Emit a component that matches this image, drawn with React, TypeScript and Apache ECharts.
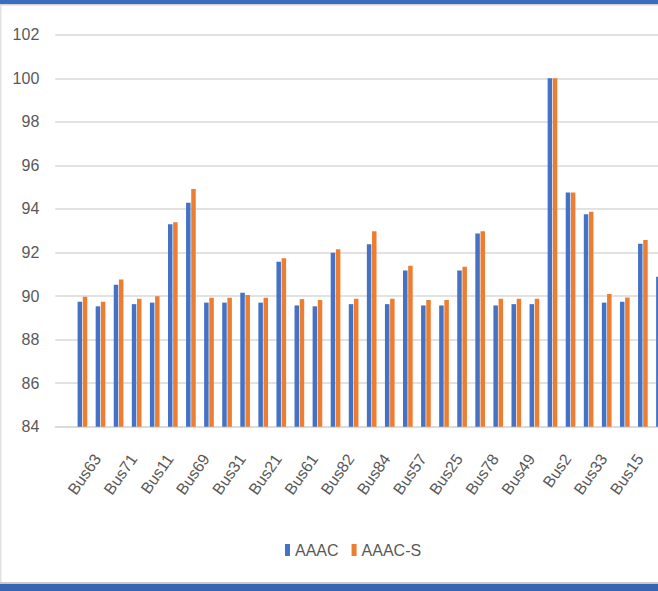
import React, { useEffect, useRef } from "react";
import * as echarts from "echarts";

// Category labels (blank entries are categories whose labels are skipped by the axis)
const categories: string[] = [
  "", "Bus63", "", "Bus71", "", "Bus11", "", "Bus69", "", "Bus31", "", "Bus21", "",
  "Bus61", "", "Bus82", "", "Bus84", "", "Bus57", "", "Bus25", "", "Bus78", "",
  "Bus49", "", "Bus2", "", "Bus33", "", "Bus15", "", "",
];

const aaac: (number | null)[] = [
  null, 89.74, 89.53, 90.52, 89.63, 89.7, 93.3, 94.29, 89.7, 89.7, 90.15, 89.7,
  91.58, 89.57, 89.53, 91.99, 89.63, 92.38, 89.63, 91.18, 89.57, 89.57, 91.18,
  92.87, 89.57, 89.63, 89.63, 100.0, 94.76, 93.76, 89.7, 89.74, 92.4, 90.89,
];

const aaacS: (number | null)[] = [
  null, 89.97, 89.74, 90.76, 89.88, 89.99, 93.39, 94.92, 89.92, 89.92, 90.05,
  89.92, 91.74, 89.86, 89.82, 92.15, 89.88, 92.98, 89.88, 91.39, 89.82, 89.82,
  91.35, 92.98, 89.88, 89.88, 89.88, 100.0, 94.76, 93.87, 90.09, 89.93, 92.58, 91.0,
];

const yTicks = { min: 84, max: 102, interval: 2 };

const FONT = "'Liberation Sans', Arial, sans-serif";
const TEXT = "#595959";
const GRID = "#d9d9d9";

const PLOT = { left: 55.3, top: 34.75, width: 614.7, height: 392 };
const LABEL_SHIFT = 15;

export default function App() {
  const ref = useRef<HTMLDivElement>(null);

  useEffect(() => {
    document.body.style.margin = "0";
    if (!ref.current) return;
    const chart = echarts.init(ref.current, undefined, { renderer: "svg" });
    chart.setOption({
      animation: false,
      backgroundColor: "#ffffff",
      textStyle: { fontFamily: FONT },
      grid: [
        { ...PLOT, containLabel: false, outerBoundsMode: "none" },
        { ...PLOT, left: PLOT.left + LABEL_SHIFT, containLabel: false, outerBoundsMode: "none" },
      ],
      legend: {
        left: 280,
        top: 537,
        icon: "rect",
        itemWidth: 5,
        itemHeight: 12,
        itemGap: 13,
        textStyle: { color: TEXT, fontSize: 16, fontFamily: FONT },
        data: ["AAAC", "AAAC-S"],
      },
      xAxis: [
        {
          type: "category",
          gridIndex: 0,
          data: categories,
          boundaryGap: true,
          axisTick: { show: false },
          axisLine: { show: true, lineStyle: { color: GRID, width: 1.5 } },
          axisLabel: { show: false },
        },
        {
          type: "category",
          gridIndex: 1,
          data: categories,
          boundaryGap: true,
          axisTick: { show: false },
          axisLine: { show: false },
          splitLine: { show: false },
          axisLabel: {
            interval: (i: number) => i % 2 === 1,
            showMinLabel: true,
            showMaxLabel: true,
            hideOverlap: false,
            rotate: 55,
            margin: 29,
            fontSize: 16,
            color: TEXT,
            fontFamily: FONT,
          },
        },
      ],
      yAxis: [
        {
          type: "value",
          gridIndex: 0,
          min: yTicks.min,
          max: yTicks.max,
          interval: yTicks.interval,
          axisLine: { show: false },
          axisTick: { show: false },
          axisLabel: { fontSize: 16, color: TEXT, margin: 16, fontFamily: FONT },
          splitLine: { show: true, lineStyle: { color: GRID, width: 1.5 } },
        },
        {
          type: "value",
          gridIndex: 1,
          min: yTicks.min,
          max: yTicks.max,
          show: false,
        },
      ],
      series: [
        {
          type: "bar",
          name: "AAAC",
          xAxisIndex: 0,
          yAxisIndex: 0,
          data: aaac,
          barWidth: 4.5,
          barGap: "15%",
          itemStyle: { color: "#4472C4" },
        },
        {
          type: "bar",
          name: "AAAC-S",
          xAxisIndex: 0,
          yAxisIndex: 0,
          data: aaacS,
          barWidth: 4.5,
          barGap: "15%",
          itemStyle: { color: "#ED7D31" },
        },
      ],
      graphic: [
        { type: "rect", left: 0, top: 0, shape: { width: 658, height: 4 }, style: { fill: "#3a6cbf" }, silent: true },
        { type: "rect", left: 0, top: 4, shape: { width: 658, height: 1.5 }, style: { fill: "#d4d4d4" }, silent: true },
        { type: "rect", left: 0, top: 582, shape: { width: 658, height: 2 }, style: { fill: "#c8c8c8" }, silent: true },
        { type: "rect", left: 0, top: 584, shape: { width: 658, height: 7 }, style: { fill: "#3565b0" }, silent: true },
        { type: "rect", left: 0, top: 5, shape: { width: 1.5, height: 577 }, style: { fill: "#e2e2e2" }, silent: true },
      ],
    });
    return () => chart.dispose();
  }, []);

  return (
    <div
      ref={ref}
      style={{ position: "fixed", left: 0, top: 0, width: 658, height: 591 }}
    />
  );
}
